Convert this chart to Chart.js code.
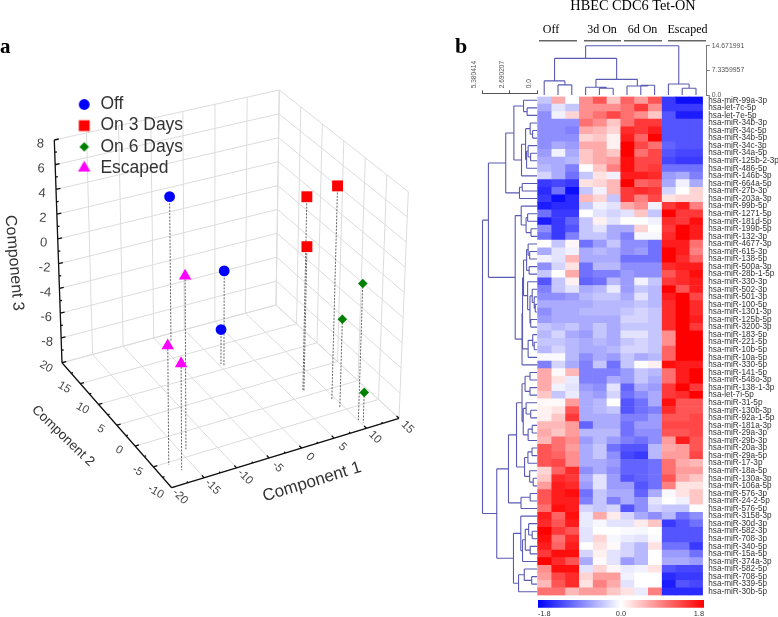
<!DOCTYPE html>
<html><head><meta charset="utf-8">
<script src="https://cdn.jsdelivr.net/npm/chart.js@4/dist/chart.umd.js"></script>
<style>
html,body{margin:0;padding:0;background:#fff;width:778px;height:617px;overflow:hidden}
canvas{position:absolute;filter:blur(0.35px)}
</style></head><body>
<canvas id="pca" style="left:0;top:0" width="450" height="617"></canvas>
<canvas id="legend3d" style="left:73.3px;top:92px" width="300" height="100"></canvas>
<canvas id="leftTreeC" style="left:450px;top:30px" width="100" height="570"></canvas>
<canvas id="topTreeC" style="left:530px;top:0" width="248" height="110"></canvas>
<canvas id="heat" style="left:530px;top:80px" width="248" height="537"></canvas>
<canvas id="scaleBar" style="left:530px;top:596px" width="248" height="21"></canvas>
<script>
// ---------- panel a: PCA values ----------
const c1Off=[-3.25,0.5,0.34], c2Off=[18.3,10.65,11.16], c3Off=[1.9,-2.3,-7.2];
const c1On3=[7.1,9.5,7.2],   c2On3=[1.2,-2.2,1.1],    c3On3=[5.6,7.1,1.6];
const c1On6=[10.05,9.33,10.3], c2On6=[-7.9,-4.45,-8.7], c3On6=[0.85,-2.9,-7.6];
const c1Esc=[-14.07,-17.9,-16.9], c2Esc=[-3.5,-5.5,-7.25], c3Esc=[3.6,-0.7,-1.7];
const c1Ticks=[-20,-15,-10,-5,0,5,10,15];
const c2Ticks=[-10,-5,0,5,10,15,20];
const c3Ticks=[8,6,4,2,0,-2,-4,-6,-8];
const seriesNames=['Off','On 3 Days','On 6 Days','Escaped'];

// ---------- panel b: heat map ----------
const miRNAs=['hsa-miR-99a-3p','hsa-let-7c-5p','hsa-let-7e-5p','hsa-miR-34b-3p','hsa-miR-34c-5p','hsa-miR-34b-5p','hsa-miR-34c-3p','hsa-miR-34a-5p','hsa-miR-125b-2-3p','hsa-miR-486-5p','hsa-miR-146b-3p','hsa-miR-664a-5p','hsa-miR-27b-3p','hsa-miR-203a-3p','hsa-miR-99b-5p','hsa-miR-1271-5p','hsa-miR-181d-5p','hsa-miR-199b-5p','hsa-miR-132-3p','hsa-miR-4677-3p','hsa-miR-615-3p','hsa-miR-138-5p','hsa-miR-500a-3p','hsa-miR-28b-1-5p','hsa-miR-330-3p','hsa-miR-502-3p','hsa-miR-501-3p','hsa-miR-100-5p','hsa-miR-1301-3p','hsa-miR-125b-5p','hsa-miR-3200-3p','hsa-miR-183-5p','hsa-miR-221-5p','hsa-miR-10b-5p','hsa-miR-10a-5p','hsa-miR-330-5p','hsa-miR-141-5p','hsa-miR-548o-3p','hsa-miR-138-1-3p','hsa-let-7i-5p','hsa-miR-31-5p','hsa-miR-130b-3p','hsa-miR-92a-1-5p','hsa-miR-181a-3p','hsa-miR-29a-3p','hsa-miR-29b-3p','hsa-miR-20a-3p','hsa-miR-29a-5p','hsa-miR-17-3p','hsa-miR-18a-5p','hsa-miR-130a-3p','hsa-miR-106a-5p','hsa-miR-576-3p','hsa-miR-24-2-5p','hsa-miR-576-5p','hsa-miR-3158-3p','hsa-miR-30d-3p','hsa-miR-582-3p','hsa-miR-708-3p','hsa-miR-340-5p','hsa-miR-15a-5p','hsa-miR-374a-3p','hsa-miR-582-5p','hsa-miR-708-5p','hsa-miR-339-5p','hsa-miR-30b-5p'];
const heatUnit=0.2; // values below are read in steps of 0.2 on the -1.8..1.8 key
const heatRows=[
[-2,3,0,4,6,2,5.5,3.5,6,-7,-8.5,-8.5],
[-3,-1,-2,4,4,4,5,7,4,-7,-7,-7],
[-4,-0.5,1.5,4,5,6.5,5,4,2,-6,-8,-8],
[-4,-4,-4,5,4,2,5,7,7,-6,-6,-6],
[-4,-4,-4.5,3,2.5,1.5,7.5,7,8,-6,-6,-6],
[-4,-4,-4,1.5,2,0.5,8,5.5,9,-6,-6,-6],
[-4,-3,-3.5,3,3,0.5,9,6.5,5,-5.5,-6,-6],
[-3.5,-0.5,-3,2,3,2,9,5,6.5,-6,-6.5,-6.5],
[-3,-3,-2.5,2,3,3.5,8.5,6.5,6.5,-6.5,-7,-7],
[-2.5,-3,-4.5,0,2,4.5,8.5,6.5,7,-5,-5,-5],
[-1.5,-3,-5,-2,1,-0.5,8,8,7.5,-3.5,-3,-4.5],
[-7,-6.5,-7,1,1.5,2.5,9,5.5,6,-3,-0.5,-3],
[-7.5,-5,-8.5,-2,-0.5,2.5,7,7.5,7,-1.5,0,1.5],
[-7,-8.5,-7.5,2.5,1.5,-2,7,4.5,6.5,1,1.5,1.5],
[-8,-7.5,-7.5,-2,-0.5,-1,3,4,-0.5,7,8,4.5],
[-5,-7,-7,0,-1,-1.5,-1,2,-2,9,7,7],
[-8,-7,-5.5,-2,0.5,-1,0,0,-0.5,7.5,7,8.5],
[-4,-7,-6,-2,-1,-3,-3,1.5,0,7,9,8],
[-5,-7,-4.5,-2,-2,-3,-4.5,-0.3,-0.3,7.5,9,8],
[0,-2,0.3,-5,-3.5,-2,-4,-4,-5,8,8,5],
[-3,-1,-0.5,-3,-2.5,-3,-4,-3.5,-5,9,8,4.5],
[-0.5,-1,2.5,-3,-3,-3,-5,-5,-5,9,7.5,5.5],
[-4,-1.5,1,-5,-2.5,-2.5,-4,-4,-4,7.5,8,8],
[-2,0,3,-5,-4.5,-4.5,-3.5,-4,-4,6,7.5,8.5],
[-6,-2,0.5,-5.5,-5,-2.5,-3.5,-0.5,-2,7,7.5,8],
[-4.5,-2,-1,-3,-2.5,-0.7,-3.5,-2,-2.5,9,6,8],
[-4,-4,-3.5,-2.5,-2,-2,-3,-1,-2.5,8,9,6.5],
[-3,-3,-3,-3,-2.5,-2.5,-2.5,-2,-2.5,7.5,9,7.5],
[-4,-3,-3,-2.5,-2.5,-2.5,-2,-1.5,-2,7.5,9,7.5],
[-3.5,-3,-3,-3,-3,-3,-1.5,-1.5,-2,7.5,9,8],
[-2,-2.5,-2,-3,-2,-3,-2,-2,-2,7.5,9,7],
[-2.5,-1.5,-3,-3.5,-2,-3,-1,-1,-2,4,9,9],
[-2,-2,-2.5,-3,-2.5,-3,-2,-1.5,-2,4,9,9],
[-2.5,-1.5,-2.5,-3,-3,-2.5,-1.5,-1.5,-2,5.5,9,9],
[-0.2,-0.2,-2.5,-4,-3,-3.5,-2,-3,-2.5,5.5,9,9],
[-4.5,-1.5,-3,-4.5,-2,-5,-2,0,0.5,8.5,8,8],
[3,0.2,2.5,-4.5,-4.5,-4.5,-3.5,-2,-2.5,5,8,9],
[3,1,-0.7,-4.5,-4.5,-3,-3.5,-2,-3,5,8,9],
[3,-0.5,-1,-3.5,-4,-1,-5.5,-3,-3.5,7,9,7],
[2,-2,-0.7,-3,-3.5,-1.5,-5,-4,-3,7,7.5,9],
[0.2,0.2,3.5,-3,-2.5,0,-6,-5,-3,8.5,6,6],
[0.5,1,6,-3,-2.5,-2,-6,-5,-4.5,7.5,6,6],
[0.5,2,7,-3,-3,-3,-4.5,-4.5,-3.5,6,6,6.5],
[2.5,2.5,3.5,-5.5,-3,-3,-5,-3.5,-3.5,6.5,6.5,6.5],
[3,2,3.5,-2.5,-2.5,-2.5,-5,-4,-4,6,6,6.5],
[2.5,5,4,-3.5,-2.5,-3.5,-4.5,-5,-4,3.5,8,6],
[6,5,3.5,-3,-2,-5,-6,-6,-2.5,3,3.5,6],
[6,5.5,4,-3,-2,-4,-6.5,-7,-2.5,3.5,3.5,6.5],
[6,6.5,4,-3,-3,-3.5,-5.5,-5.5,-5,5,3,2.5],
[1.5,5.5,7.5,-4,-3,-4,-5.5,-5.5,-5,5,3.5,3.5],
[2,7.5,7,-3,-1,-3.5,-6,-5.5,-5,6,3,2],
[3.5,8,7.5,-3.5,-1,-3.5,-3.5,-6,-5,4.5,1,1],
[6,8,8.5,-5,-2,-3,-3,-5.5,-3,-0.2,1,2],
[6,8,8,-4.5,-2,-4.5,-3,-4,-1,0,-0.5,2],
[5,8.5,8,-1.5,-2,-1.5,-6,-4,-1.5,-2,-2,0],
[8,5.5,8.5,-0.7,3,0.7,-1.5,-3,-4,-2.5,-5,-4],
[7.5,6,8,-0.7,-0.3,-1,-1,0.7,2,-7,-6,-5],
[9,7,6,-1,0,0,-0.2,-0.3,0,-6,-6,-6],
[8.5,5,7.5,-1,1.5,-0.3,-0.7,-1,-0.2,-6,-6,-6],
[8,5.5,8,0,1,0.2,-1.5,-2.5,1,-5,-5,-7],
[7,8.5,8.5,-1.5,0.5,-1,-1.5,-2.5,0,-3.5,-3.5,-5],
[9,7.5,6,-3,0.2,-1,-3.5,-2.5,0,-3,-3,-3.5],
[4,8.5,8.5,-1,1.5,0.3,-0.7,-0.5,1,-6,-6.5,-6.5],
[3.5,6.5,7.5,1.5,3.5,3.5,-0.5,0,0,-7.5,-7,-7],
[2.5,6,7.5,1,4.5,3,-1,0,0,-8,-6,-6.5],
[5,5,2.5,3.5,3.5,2,1,-0.7,4.5,-7.5,-7.5,-7.5]];
const keyTicks=[-1.8,0,1.8];
const groupLabels=['Off','3d On','6d On','Escaped'];

// dendrograms: [merge height, child, child]; a bare number is a leaf (row / column, from 1)
const colTree=[14.67,[10.9,[4.2,1,[3.0,2,3]],[4.66,[2.3,4,[2.0,5,6]],[2.7,7,[2.9,8,9]]]],[3.27,10,[2.0,11,12]]];
const rowTree=[5.38,
 [4.8,
  [3.1,
   [2.3,[1.35,1,[1.0,2,3]],[1.55,[1.15,[0.7,4,[0.46,5,6]],[1.05,[0.9,7,[0.66,8,9]],10]],11]],
   [1.75,[1.48,12,13],14]],
  [2.17,
   [1.58,15,[1.1,[0.95,16,17],[0.62,18,19]]],
   [1.5,[1.45,[1.35,[1.05,[0.9,20,[0.75,21,22]],[0.8,23,24]],[0.95,25,[0.72,[0.5,26,[0.3,27,[0.2,28,29]]],[0.65,30,31]]]],[0.9,[0.45,32,[0.3,33,34]],35]],36]]],
 [3.98,
  [2.83,
   [2.04,
    [1.5,[1.2,[0.72,37,38],[0.72,39,40]],[1.38,[1.1,41,[0.65,42,43]],[0.9,[0.5,44,45],46]]],
    [1.25,[0.92,[0.52,47,48],49],[0.75,50,[0.4,51,52]]]],
   [1.6,[0.7,53,54],55]],
  [2.34,
   [1.62,56,[1.45,[1.18,[0.85,57,[0.5,58,59]],[0.7,60,61]],62]],
   [1.84,[1.28,63,[0.55,64,65]],66]]]];
const rowTreeTicks=[0,2.690207,5.380414], rowTreeLabels=['0.0','2.690207','5.380414'];
const colTreeTicks=[0,7.3359957,14.671991], colTreeLabels=['0.0','7.3359957','14.671991'];

// ---------- shared ----------
Chart.defaults.font.family="'Liberation Sans',Arial,sans-serif";
Chart.defaults.animation=false;
Chart.defaults.responsive=false;
Chart.defaults.devicePixelRatio=1;
const SANS="'Liberation Sans',Arial,sans-serif", SERIF="'Liberation Serif','Times New Roman',serif";
const GAP={x:NaN,y:NaN};

// ---------- 3-D box projection (corners of the box on the page) ----------
const box={bot:{F:[171.7,487.7],R:[399,418.3],L:[62,362.7],B:[276,305]},
           top:{F:[170,255],R:[408.3,191.7],L:[54.3,140],B:[279.3,90]}};
function project(a,b,c){
  const u=(a+20)/35,v=(b+10)/30,w=(c+10)/18;
  const f=i=>{
    const q=s=>s.F[i]*(1-u)*(1-v)+s.R[i]*u*(1-v)+s.L[i]*(1-u)*v+s.B[i]*u*v;
    return q(box.bot)*(1-w)+q(box.top)*w;
  };
  return {x:f(0),y:f(1)};
}
const seg=(arr,p,q)=>{arr.push(project(...p),project(...q),GAP);};
const gridPts=[],axisPts=[],dropPts=[];
c1Ticks.forEach(a=>{seg(gridPts,[a,-10,-10],[a,20,-10]);seg(gridPts,[a,20,-10],[a,20,8]);});
c2Ticks.forEach(b=>{seg(gridPts,[-20,b,-10],[15,b,-10]);seg(gridPts,[15,b,-10],[15,b,8]);});
c3Ticks.concat([-10]).forEach(c=>{seg(gridPts,[-20,20,c],[15,20,c]);seg(gridPts,[15,20,c],[15,-10,c]);});
seg(axisPts,[-20,20,-10],[-20,20,8]);seg(axisPts,[-20,-10,-10],[-20,20,-10]);seg(axisPts,[-20,-10,-10],[15,-10,-10]);
for(let c=-10;c<=8;c+=1){seg(axisPts,[-20,20,c],[-20+(c%2?0.35:0.7),20,c]);}
for(let b=-10;b<=20;b+=2.5){seg(axisPts,[-20,b,-10],[-20+(b%5?0.3:0.6),b,-10]);}
for(let a=-20;a<=15;a+=2.5){seg(axisPts,[a,-10,-10],[a,-10+(a%5?0.3:0.6),-10]);}
const seriesPts=(A,B,C)=>A.map((a,i)=>{seg(dropPts,[a,B[i],C[i]],[a,B[i],-10]);return project(a,B[i],C[i]);});
const ptsOff=seriesPts(c1Off,c2Off,c3Off),ptsOn3=seriesPts(c1On3,c2On3,c3On3),
      ptsOn6=seriesPts(c1On6,c2On6,c3On6),ptsEsc=seriesPts(c1Esc,c2Esc,c3Esc);
const markStyles=[{s:'circle',r:5.4,c:'#0000ff'},{s:'rect',r:7.7,c:'#ff0000'},{s:'rectRot',r:4.8,c:'#008000'},{s:'triangle',r:7.2,c:'#ff00ff'}];

function rotText(ctx,t,x,y,deg,font,color){
  ctx.save();ctx.translate(x,y);ctx.rotate(deg*Math.PI/180);ctx.font=font;ctx.fillStyle=color;
  ctx.textAlign='center';ctx.textBaseline='middle';ctx.fillText(t,0,0);ctx.restore();
}
const pcaLabels={id:'pcaLabels',afterDraw(ch){
  const g=ch.ctx,C='#444';
  c3Ticks.forEach(c=>{const p=project(-20,20,c);rotText(g,String(c),p.x-14,p.y+4,4,'13px '+SANS,C);});
  c2Ticks.forEach(b=>{const p=project(-20,b,-10);rotText(g,String(b),p.x-16,p.y+4,30,'11.5px '+SANS,C);});
  c1Ticks.forEach(a=>{const p=project(a,-10,-10);rotText(g,String(a),p.x+8.5,p.y+9,45,'11.5px '+SANS,C);});
  rotText(g,'Component 3',14,263,85,'16px '+SANS,'#333');
  rotText(g,'Component 2',63,436,44,'13.5px '+SANS,'#333');
  rotText(g,'Component 1',312,482,-17,'17px '+SANS,'#333');
  g.save();g.font='bold 21px '+SERIF;g.fillStyle='#000';g.textBaseline='alphabetic';g.fillText('a',0,53);g.restore();
}};
const lineDs=(data,color,w,dash,order)=>({type:'scatter',data,showLine:true,spanGaps:false,pointRadius:0,borderColor:color,borderWidth:w,borderDash:dash||[],fill:false,order:order||0});
const markDs=(label,data,m)=>({label,data,pointStyle:m.s,pointRadius:m.r,pointHoverRadius:m.r,backgroundColor:m.c,borderColor:m.c,borderWidth:0,showLine:false,order:0});
new Chart(document.getElementById('pca'),{type:'scatter',
  data:{datasets:[
    lineDs(gridPts,'#dcdcdc',1,null,3),lineDs(axisPts,'#111',1.3,null,2),lineDs(dropPts,'#555',0.9,[2,1.3],1),
    markDs(seriesNames[0],ptsOff,markStyles[0]),markDs(seriesNames[1],ptsOn3,markStyles[1]),
    markDs(seriesNames[2],ptsOn6,markStyles[2]),markDs(seriesNames[3],ptsEsc,markStyles[3])]},
  options:{layout:{padding:0,autoPadding:false},clip:false,
    plugins:{legend:{display:false},tooltip:{enabled:false}},
    scales:{x:{type:'linear',display:false,min:0,max:450},y:{type:'linear',display:false,min:0,max:617,reverse:true}}},
  plugins:[pcaLabels]});

// legend with per-series symbol sizes
function symbol(m){
  const n=Math.ceil(m.r*2+4),cv=document.createElement('canvas');cv.width=n;cv.height=n;
  const g=cv.getContext('2d');g.fillStyle=m.c;g.strokeStyle=m.c;
  Chart.helpers.drawPoint(g,{pointStyle:m.s,radius:m.r,rotation:0,borderWidth:0},n/2,n/2);
  return cv;
}
new Chart(document.getElementById('legend3d'),{type:'scatter',
  data:{datasets:seriesNames.map((n,i)=>({label:n,data:[],pointStyle:symbol(markStyles[i]),backgroundColor:markStyles[i].c}))},
  options:{layout:{padding:0,autoPadding:false},
    scales:{x:{display:false},y:{display:false}},
    plugins:{tooltip:{enabled:false},legend:{display:true,position:'left',align:'start',
      labels:{usePointStyle:true,pointStyleWidth:15,padding:3.7,color:'#333',font:{size:17.5,lineHeight:1.2}}}}}});

// ---------- dendrograms ----------
function treeSegs(node,out){ // returns {h,pos}
  if(typeof node==='number')return {h:0,pos:node-0.5};
  const a=treeSegs(node[1],out),b=treeSegs(node[2],out),h=node[0];
  out.push([a.h,a.pos,h,a.pos],[h,a.pos,h,b.pos],[h,b.pos,b.h,b.pos]);
  return {h,pos:(a.pos+b.pos)/2};
}
const rowSegs=[];treeSegs(rowTree,rowSegs);
const colSegs=[];treeSegs(colTree,colSegs);
const rowPts=[],colPts=[];
rowSegs.forEach(s=>rowPts.push({x:s[0],y:s[1]},{x:s[2],y:s[3]},GAP));
colSegs.forEach(s=>colPts.push({x:s[1],y:s[0]},{x:s[3],y:s[2]},GAP));
const TREE='#5a5ab4';

new Chart(document.getElementById('leftTreeC'),{type:'scatter',
  data:{datasets:[lineDs(rowPts,TREE,1.1)]},
  options:{layout:{padding:{left:32.5,right:12.7,top:0,bottom:4.5},autoPadding:false},clip:false,
    plugins:{legend:{display:false},tooltip:{enabled:false}},
    scales:{
      x:{type:'linear',position:'top',reverse:true,min:0,max:5.380414,
        afterFit(s){s.height=63.3;},
        afterBuildTicks(s){s.ticks=rowTreeTicks.map(v=>({value:v}));},
        grid:{drawOnChartArea:false,tickLength:3,color:'#555'},border:{color:'#555'},
        ticks:{minRotation:90,maxRotation:90,autoSkip:false,padding:2,color:'#555',font:{size:6.6},
          callback(v){return rowTreeLabels[rowTreeTicks.indexOf(v)];}}},
      y:{type:'linear',display:false,reverse:true,min:-0.423,max:66}}},
  plugins:[{id:'bLabel',afterDraw(ch){const g=ch.ctx;g.save();g.font='bold 22px '+SERIF;g.fillStyle='#000';g.fillText('b',5,23);g.restore();}}]});

const groupBars=[[9,47],[54,91],[94,132],[138,176]];
new Chart(document.getElementById('topTreeC'),{type:'scatter',
  data:{datasets:[lineDs(colPts,TREE,1.1)]},
  options:{layout:{padding:{left:7.3,right:0,top:45.7,bottom:15},autoPadding:false},clip:false,
    plugins:{legend:{display:false},tooltip:{enabled:false}},
    scales:{
      x:{type:'linear',display:false,min:0,max:12.275},
      y:{type:'linear',position:'right',min:0,max:14.671991,
        afterFit(s){s.width=71.3;},
        afterBuildTicks(s){s.ticks=colTreeTicks.map(v=>({value:v}));},
        grid:{drawOnChartArea:false,tickLength:3,color:'#777'},border:{color:'#777'},
        ticks:{padding:2,autoSkip:false,color:'#555',font:{size:6.9},
          callback(v){return colTreeLabels[colTreeTicks.indexOf(v)];}}}}},
  plugins:[{id:'heads',afterDraw(ch){
    const g=ch.ctx;g.save();g.fillStyle='#000';g.textAlign='center';
    g.font='14.3px '+SERIF;g.fillText('HBEC CDC6 Tet-ON',103,9.5);
    g.font='12px '+SERIF;
    const cx=[21,72,112.5,157.5];
    groupLabels.forEach((t,i)=>g.fillText(t,cx[i],33));
    g.fillStyle='#666';
    groupBars.forEach(b=>g.fillRect(b[0],40,b[1]-b[0],1.5));
    g.restore();
  }}]});

// ---------- heat map ----------
function heatColor(v){
  const t=Math.min(1,Math.abs(v*heatUnit)/1.8),k=Math.round(255*(1-t));
  return v<0?`rgb(${k},${k},255)`:`rgb(255,${k},${k})`;
}
new Chart(document.getElementById('heat'),{type:'bar',
  data:{labels:miRNAs,datasets:heatRows[0].map((_,c)=>({
    data:heatRows.map(()=>1),backgroundColor:heatRows.map(r=>heatColor(r[c])),
    borderWidth:0,barPercentage:1,categoryPercentage:1}))},
  options:{indexAxis:'y',layout:{padding:{left:7.3,right:0,top:16.5,bottom:21.5},autoPadding:false},
    plugins:{legend:{display:false},tooltip:{enabled:false}},
    scales:{
      x:{stacked:true,display:false,min:0,max:12},
      y:{stacked:true,position:'right',afterFit(s){s.width=75.1;},
        grid:{display:false,drawTicks:false},border:{display:false},
        ticks:{autoSkip:false,padding:5.4,color:'#333',font:{size:8.2}}}}}});

// ---------- colour key ----------
new Chart(document.getElementById('scaleBar'),{type:'bar',
  data:{labels:[''],datasets:[{data:[[keyTicks[0],keyTicks[2]]],borderWidth:0,barPercentage:1,categoryPercentage:1,
    backgroundColor(ctx){
      const a=ctx.chart.chartArea;if(!a)return '#fff';
      const g=ctx.chart.ctx.createLinearGradient(a.left,0,a.right,0);
      g.addColorStop(0,'#0000ff');g.addColorStop(0.5,'#ffffff');g.addColorStop(1,'#ff0000');return g;
    }}]},
  options:{indexAxis:'y',layout:{padding:{left:8,right:74,top:4,bottom:0},autoPadding:false},
    plugins:{legend:{display:false},tooltip:{enabled:false}},
    scales:{
      y:{display:false},
      x:{type:'linear',min:keyTicks[0],max:keyTicks[2],afterFit(s){s.height=9.3;},
        afterBuildTicks(s){s.ticks=keyTicks.map(v=>({value:v}));},
        grid:{display:false,drawTicks:false},border:{display:false},
        ticks:{align:'inner',padding:2.2,color:'#333',font:{size:7.4},autoSkip:false,
          callback(v){return v.toFixed(1);}}}}}});
</script>
</body></html>
